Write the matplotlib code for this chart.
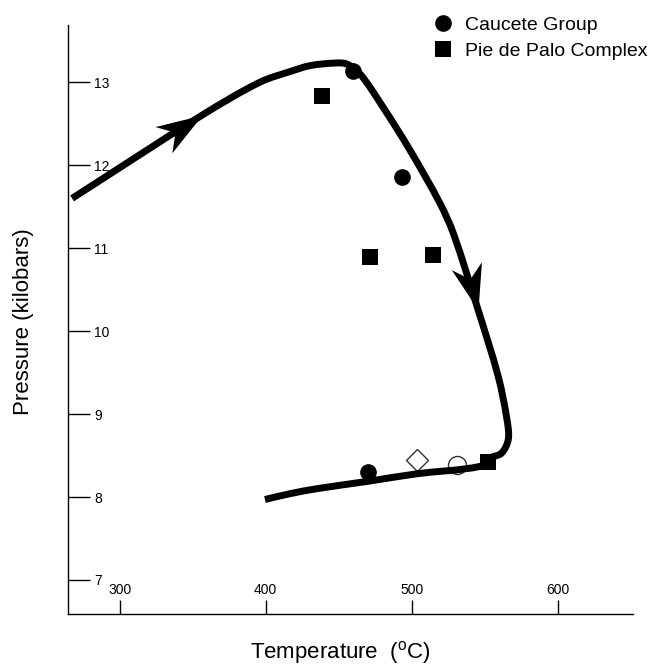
import numpy as np
import matplotlib
matplotlib.use("Agg")
import matplotlib.pyplot as plt
from matplotlib.path import Path
from matplotlib.patches import PathPatch

plt.rcParams['font.family'] = ['Liberation Sans', 'DejaVu Sans']
plt.rcParams['mathtext.fontset'] = 'custom'
plt.rcParams['mathtext.rm'] = 'Liberation Sans'

# P-T path, temperature (°C) and pressure (kbar)
path_t = [267.5, 356.2, 396.0, 418.7, 430.3, 446.0, 455.4, 464.6, 480.3, 498.8,
          519.3, 528.4, 545.5, 559.2, 565.0, 566.1, 561.5, 553.5, 546.9, 503.4,
          470.2, 434.9, 416.6, 399.5]
path_p = [11.60, 12.60, 13.00, 13.14, 13.20, 13.23, 13.22, 13.10, 12.70, 12.18,
          11.54, 11.18, 10.25, 9.45, 8.95, 8.70, 8.53, 8.47, 8.37, 8.28,
          8.19, 8.10, 8.04, 7.97]

# arrowheads: (tail, tip) along the path
arrows = [((267.5, 11.60), (356.2, 12.60)),
          ((537.6, 10.78), (545.5, 10.25))]

# samples
caucete_t = [459.9, 493.3, 470.0]
caucete_p = [13.14, 11.86, 8.30]
pdp_t = [438.5, 471.4, 514.5, 552.1]
pdp_p = [12.84, 10.89, 10.92, 8.42]
diamond_t, diamond_p = [503.6], [8.45]
open_t, open_p = [531.0], [8.39]

xticks = [300, 400, 500, 600]
yticks = [7, 8, 9, 10, 11, 12, 13]

W, H = 651, 664
fig = plt.figure(figsize=(W / 100, H / 100), dpi=100)
ax = fig.add_axes([68 / W, 50 / H, 565 / W, 589 / H])
ax.set_xlim(264.7, 651.4)
ax.set_ylim(6.59, 13.69)

for s in ['top', 'right']:
    ax.spines[s].set_visible(False)
for s in ['left', 'bottom']:
    ax.spines[s].set_linewidth(1.0)

ax.set_xticks(xticks)
ax.set_yticks(yticks)
ax.tick_params(axis='x', direction='in', length=10, width=1, labelsize=10, pad=-22)
ax.tick_params(axis='y', direction='in', length=16, width=1, labelsize=10, pad=-19)
for lbl in ax.get_yticklabels():
    lbl.set_horizontalalignment('left')


def smooth(xs, ys):
    # smooth Hermite curve through the read points (chord-length tangents)
    pts = np.column_stack([xs, ys])
    disp = ax.transData.transform(pts)
    d = np.hypot(*np.diff(disp, axis=0).T)
    n = len(pts)
    tang = np.zeros_like(pts)
    tang[0] = (pts[1] - pts[0]) / d[0]
    tang[-1] = (pts[-1] - pts[-2]) / d[-1]
    for k in range(1, n - 1):
        tang[k] = (pts[k + 1] - pts[k - 1]) / (d[k - 1] + d[k])
    verts = [pts[0]]
    codes = [Path.MOVETO]
    for i in range(n - 1):
        verts += [pts[i] + tang[i] * d[i] / 3,
                  pts[i + 1] - tang[i + 1] * d[i] / 3,
                  pts[i + 1]]
        codes += [Path.CURVE4] * 3
    return Path(np.array(verts), codes)


# the P-T path
ax.add_patch(PathPatch(smooth(path_t, path_p), fill=False, edgecolor='black',
                       lw=5, joinstyle='round', capstyle='butt', zorder=3))


def arrow_path(tail, tip):
    x0, y0 = ax.transData.transform(tail)
    x1, y1 = ax.transData.transform(tip)
    ang = np.arctan2(y1 - y0, x1 - x0)
    verts = np.array([[0, 0], [-1, 0.34], [-0.7, 0], [-1, -0.34], [0, 0]])
    c, s = np.cos(ang), np.sin(ang)
    rot = verts @ np.array([[c, s], [-s, c]])
    codes = [Path.MOVETO, Path.LINETO, Path.LINETO, Path.LINETO, Path.CLOSEPOLY]
    return Path(rot, codes), np.max(np.abs(rot))


for tail, tip in arrows:
    mpath, rescale = arrow_path(tail, tip)
    ax.plot([tip[0]], [tip[1]], linestyle='none', marker=mpath,
            markersize=66 * rescale, color='black', mew=0, zorder=4)

# open symbols sit under the path
ax.plot(diamond_t, diamond_p, linestyle='none', marker='D', ms=11,
        mfc='white', mec='#333333', mew=1.0, zorder=2)
ax.plot(open_t, open_p, linestyle='none', marker='o', ms=13,
        mfc='white', mec='#333333', mew=1.0, zorder=2)

ax.plot(caucete_t, caucete_p, linestyle='none', marker='o', ms=12,
        color='black', mew=0, zorder=5, label='Caucete Group')
ax.plot(pdp_t, pdp_p, linestyle='none', marker='s', ms=12,
        color='black', mew=0, zorder=5, label='Pie de Palo Complex')

ax.legend(loc='upper left', bbox_to_anchor=(431 / W, 1 - 16 / H),
          bbox_transform=fig.transFigure, frameon=False, fontsize=14,
          borderpad=0, borderaxespad=0, handlelength=1.2, handletextpad=0.55,
          labelspacing=0.45, markerscale=1.0)

ax.set_ylabel('Pressure (kilobars)', fontsize=16, va='center')
ax.yaxis.set_label_coords((24 - 68) / 565, (614 - 322) / 589)
ax.set_xlabel('Temperature  ($^{\\rm o}$C)', fontsize=16, va='center')
ax.xaxis.set_label_coords((340 - 68) / 565, (614 - 652) / 589)

fig.savefig('out.png', dpi=100)
